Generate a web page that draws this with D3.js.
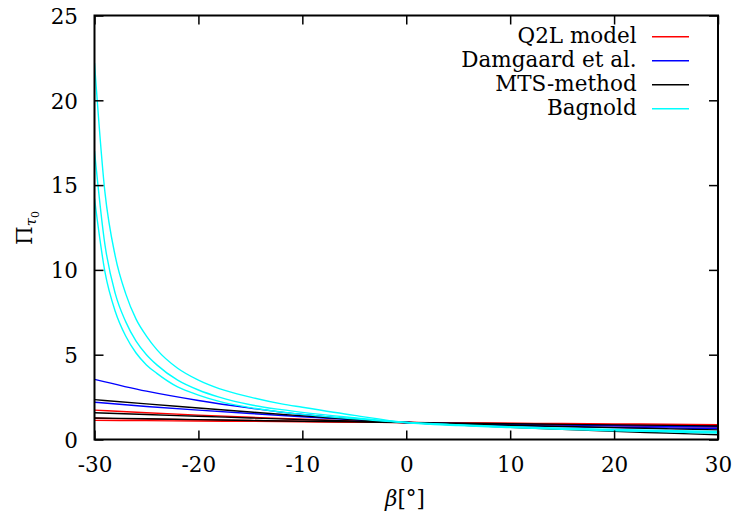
<!DOCTYPE html>
<html>
<head>
<meta charset="utf-8">
<script src="https://cdn.jsdelivr.net/npm/d3@7/dist/d3.min.js"></script>
<style>
  html, body { margin: 0; padding: 0; background: #fff; }
  svg { display: block; }
</style>
</head>
<body>
<svg id="chart" width="736" height="517"></svg>
<script>
// Slope angle grids (degrees)
const betaCoarse = [-30, -25, -20, -15, -10, -5, 0, 5, 10, 15, 20, 25, 30];
const betaFine = [-30, -29, -28, -27, -26, -25, -24, -22, -20, -18, -15, -12, -10, -5, 0, 5, 10, 15, 20, 25, 30];

// Threshold shear stress ratio, one array per curve
const q2lA = [1.73, 1.58, 1.44, 1.31, 1.19, 1.09, 1.0, 0.95, 0.90, 0.85, 0.81, 0.77, 0.73];
const q2lB = [1.25, 1.20, 1.16, 1.12, 1.08, 1.04, 1.0, 0.97, 0.94, 0.91, 0.88, 0.85, 0.82];
const q2lC = [1.13, 1.11, 1.09, 1.07, 1.05, 1.02, 1.0, 0.98, 0.96, 0.94, 0.92, 0.90, 0.88];

const damgaardA = [3.55, 2.85, 2.30, 1.85, 1.47, 1.20, 1.0, 0.90, 0.82, 0.76, 0.71, 0.68, 0.65];
const damgaardB = [2.20, 1.95, 1.73, 1.53, 1.34, 1.16, 1.0, 0.94, 0.89, 0.85, 0.81, 0.78, 0.75];

const mtsA = [2.35, 2.10, 1.86, 1.62, 1.39, 1.18, 1.0, 0.85, 0.72, 0.60, 0.48, 0.38, 0.28];
const mtsB = [1.58, 1.47, 1.37, 1.27, 1.17, 1.08, 1.0, 0.92, 0.84, 0.77, 0.70, 0.63, 0.57];
const mtsC = [1.27, 1.22, 1.17, 1.12, 1.08, 1.04, 1.0, 0.96, 0.93, 0.89, 0.86, 0.83, 0.80];

const bagnoldA = [22.2, 14.6, 10.8, 8.6, 7.1, 6.1, 5.3, 4.2, 3.5, 3.0, 2.5, 2.1, 1.9, 1.42, 1.0, 0.82, 0.70, 0.60, 0.52, 0.45, 0.38];
const bagnoldB = [17.0, 11.5, 8.6, 6.95, 5.8, 5.0, 4.4, 3.5, 2.92, 2.5, 2.05, 1.76, 1.6, 1.28, 1.0, 0.85, 0.73, 0.63, 0.55, 0.49, 0.43];
const bagnoldC = [14.2, 9.9, 7.55, 6.1, 5.1, 4.4, 3.9, 3.1, 2.62, 2.25, 1.88, 1.62, 1.48, 1.22, 1.0, 0.87, 0.76, 0.67, 0.59, 0.53, 0.48];

const xTicks = [-30, -20, -10, 0, 10, 20, 30];
const yTicks = [0, 5, 10, 15, 20, 25];

const seriesNames = ["Q2L model", "Damgaard et al.", "MTS-method", "Bagnold"];
const seriesColors = ["#ff0000", "#0000ff", "#000000", "#00ffff"];

const groups = [
  { name: seriesNames[0], color: seriesColors[0], beta: betaCoarse, curves: [q2lA, q2lB, q2lC] },
  { name: seriesNames[1], color: seriesColors[1], beta: betaCoarse, curves: [damgaardA, damgaardB] },
  { name: seriesNames[2], color: seriesColors[2], beta: betaCoarse, curves: [mtsA, mtsB, mtsC] },
  { name: seriesNames[3], color: seriesColors[3], beta: betaFine, curves: [bagnoldA, bagnoldB, bagnoldC] }
];

const FONT = "DejaVu Serif";
const FS = 21.5;
// Serif face applied directly to each text element
const serif = sel => sel.attr("font-family", FONT).style("font-family", `"${FONT}", serif`);

const svg = d3.select("#chart");
const plotL = 94.5, plotR = 718, plotT = 15.5, plotB = 439.5;

const x = d3.scaleLinear().domain([-30, 30]).range([plotL, plotR]);
const y = d3.scaleLinear().domain([0, 25]).range([plotB, plotT]);

const clip = svg.append("defs").append("clipPath").attr("id", "plotclip");
clip.append("rect").attr("x", plotL).attr("y", plotT).attr("width", plotR - plotL).attr("height", plotB - plotT);

// Curves
const line = d3.line().curve(d3.curveMonotoneX);
const plot = svg.append("g").attr("clip-path", "url(#plotclip)");
groups.forEach(g => {
  g.curves.forEach(vals => {
    plot.append("path")
      .attr("d", line(vals.map((v, i) => [x(g.beta[i]), y(v)])))
      .attr("fill", "none")
      .attr("stroke", g.color)
      .attr("stroke-width", 1.4);
  });
});

// Axes with inward ticks, mirrored on all four sides
const tickLen = 9;
const fmt = d => String(d); // plain hyphen-minus
const axisStyle = sel => {
  sel.attr("font-family", FONT).attr("font-size", FS);
  sel.select(".domain").remove();
  sel.selectAll(".tick line").attr("stroke", "#000").attr("stroke-width", 1.5);
  sel.selectAll(".tick text").attr("fill", "#000").call(serif);
};

svg.append("g").attr("transform", `translate(0,${plotB})`)
  .call(d3.axisBottom(x).tickValues(xTicks).tickSizeInner(-tickLen).tickSizeOuter(0).tickFormat(fmt))
  .call(axisStyle)
  .call(s => s.selectAll(".tick text").attr("dy", "0").attr("y", 32.5));

svg.append("g").attr("transform", `translate(0,${plotT})`)
  .call(d3.axisTop(x).tickValues(xTicks).tickSizeInner(-tickLen).tickSizeOuter(0).tickFormat(""))
  .call(axisStyle);

svg.append("g").attr("transform", `translate(${plotL},0)`)
  .call(d3.axisLeft(y).tickValues(yTicks).tickSizeInner(-tickLen).tickSizeOuter(0).tickFormat(fmt))
  .call(axisStyle)
  .call(s => s.selectAll(".tick text").attr("x", -16.5).attr("dy", "0.36em"));

svg.append("g").attr("transform", `translate(${plotR},0)`)
  .call(d3.axisRight(y).tickValues(yTicks).tickSizeInner(-tickLen).tickSizeOuter(0).tickFormat(""))
  .call(axisStyle);

// Frame
svg.append("rect")
  .attr("x", plotL).attr("y", plotT)
  .attr("width", plotR - plotL).attr("height", plotB - plotT)
  .attr("fill", "none").attr("stroke", "#000").attr("stroke-width", 2);

// Axis titles
svg.append("text")
  .call(serif)
  .attr("x", 405).attr("y", 506)
  .attr("text-anchor", "middle").attr("font-size", FS)
  .call(t => {
    t.append("tspan").attr("font-style", "italic").text("β");
    t.append("tspan").text("[°]");
  });

const yl = svg.append("text")
  .call(serif)
  .attr("transform", `translate(32,228) rotate(-90)`)
  .attr("text-anchor", "middle").attr("font-size", FS);
yl.append("tspan").text("Π");
yl.append("tspan").attr("font-size", 15).attr("font-style", "italic").attr("dy", 4).text("τ");
yl.append("tspan").attr("font-size", 11).attr("dy", 3).text("0");

// Legend
const legend = svg.append("g");
groups.forEach((g, i) => {
  const ly = 36.7 + i * 24;
  legend.append("text")
    .call(serif)
    .attr("x", 636.7).attr("y", ly + 6.5)
    .attr("text-anchor", "end").attr("font-size", FS)
    .text(g.name);
  legend.append("line")
    .attr("x1", 652).attr("x2", 689)
    .attr("y1", ly).attr("y2", ly)
    .attr("stroke", g.color).attr("stroke-width", 1.4);
});
</script>
</body>
</html>
